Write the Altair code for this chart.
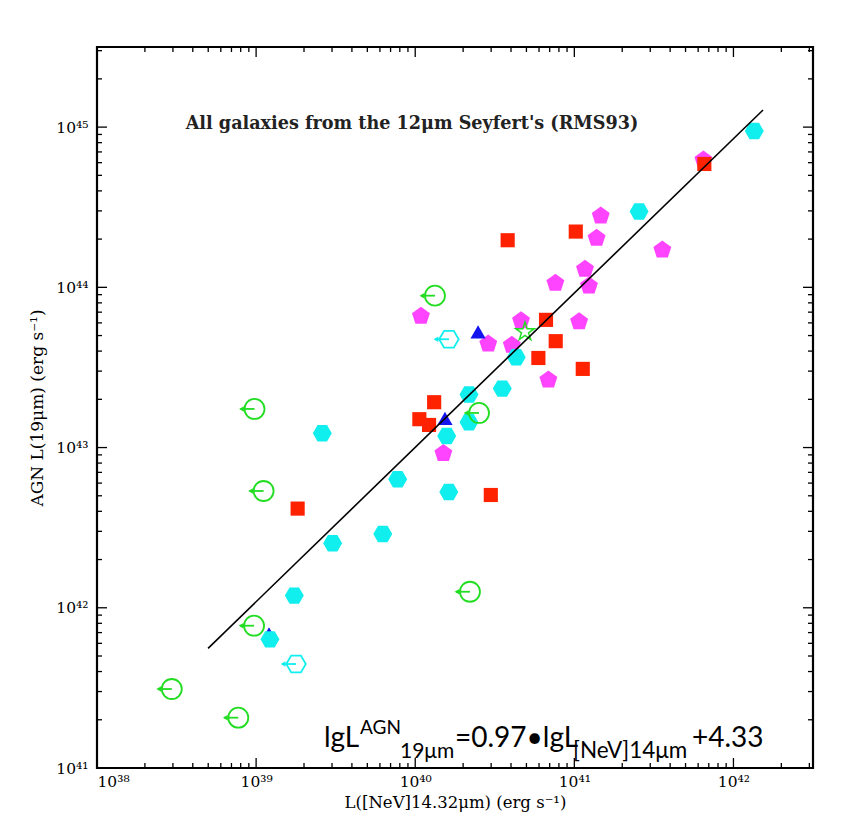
import altair as alt
import pandas as pd

# ---------------- data (log10 luminosities) ----------------
cyan_lx = [42.131, 41.407, 40.635, 40.547, 40.338, 40.338, 40.198, 39.416, 39.890, 40.211, 39.796, 39.481, 39.240, 39.087]
cyan_ly = [44.976, 44.473, 43.564, 43.368, 43.331, 43.158, 43.072, 43.089, 42.802, 42.723, 42.461, 42.403, 42.076, 41.803]

mag_lx = [41.811, 41.166, 41.140, 41.553, 41.067, 40.881, 41.092, 40.036, 40.665, 41.030, 40.459, 40.607, 40.837, 40.177]
mag_ly = [44.795, 44.446, 44.307, 44.233, 44.113, 44.026, 44.009, 43.820, 43.792, 43.786, 43.647, 43.639, 43.422, 42.964]

red_lx = [41.817, 41.009, 40.581, 40.822, 40.883, 40.774, 41.053, 40.119, 40.026, 40.087, 40.475, 39.261]
red_ly = [44.770, 44.348, 44.294, 43.797, 43.664, 43.559, 43.491, 43.283, 43.177, 43.141, 42.704, 42.619]

blue_lx = [40.395, 40.187]
blue_ly = [43.722, 43.182]
blue_small_lx = [39.081]
blue_small_ly = [41.861]

green_lim_lx = [40.124, 40.401, 38.990, 39.047, 40.344, 38.987, 38.470, 38.888]
green_lim_ly = [43.948, 43.216, 43.241, 42.729, 42.100, 41.888, 41.493, 41.314]

cyan_lim_lx = [40.212, 39.251]
cyan_lim_ly = [43.676, 41.649]

star_lx = [40.690]
star_ly = [43.723]

fit_lx = [38.698, 42.186]
fit_ly = [41.747, 45.107]

x_decades = [38, 39, 40, 41, 42]
y_decades = [41, 42, 43, 44, 45]
x_max_exp = 42.5
y_max_exp = 45.5

title_text = "All galaxies from the 12\u03bcm Seyfert's (RMS93)"
x_title = "L([NeV]14.32\u03bcm) (erg s\u207b\u00b9)"
y_title = "AGN L(19\u03bcm) (erg s\u207b\u00b9)"
eq_parts = ["lgL", "AGN", "19\u03bcm", "=0.97\u2022lgL", "[NeV]14\u03bcm", "+4.33"]

# ---------------- helpers ----------------
W, H = 716, 721
SUP = str.maketrans("0123456789", "\u2070\u00b9\u00b2\u00b3\u2074\u2075\u2076\u2077\u2078\u2079")


def table(lx, ly):
    return pd.DataFrame({"x": [10 ** v for v in lx], "y": [10 ** v for v in ly]})


def label_expr(decades):
    expr = "''"
    for d in reversed(decades):
        expr = f"datum.value < {10 ** (d + 0.5):.3e} ? '10{str(d).translate(SUP)}' : " + expr
    return expr


xs = alt.Scale(type="log", domain=[10 ** x_decades[0], 10 ** x_max_exp], nice=False)
ys = alt.Scale(type="log", domain=[10 ** y_decades[0], 10 ** y_max_exp], nice=False)

X = lambda: alt.X("x:Q", scale=xs, title=x_title)
Y = lambda: alt.Y("y:Q", scale=ys, title=y_title)

HEX = "M-1,0L-0.5,-0.866L0.5,-0.866L1,0L0.5,0.866L-0.5,0.866Z"
PENT = "M0,-1L0.951,-0.309L0.588,0.809L-0.588,0.809L-0.951,-0.309Z"
STAR = ("M0,-1L0.2245,-0.309L0.951,-0.309L0.363,0.118L0.588,0.809L0,0.382"
        "L-0.588,0.809L-0.363,0.118L-0.951,-0.309L-0.2245,-0.309Z")

CYAN, MAG, RED, BLUE, GREEN = "#10eeee", "#ff44ff", "#ff2200", "#1414ee", "#22dd22"

# ---------------- tick marks (inward, on all four sides) ----------------
x_major = [10 ** d for d in x_decades]
x_minor = [k * 10 ** d for d in x_decades for k in range(2, 10) if k * 10 ** d <= 10 ** x_max_exp]
y_major = [10 ** d for d in y_decades]
y_minor = [k * 10 ** d for d in y_decades for k in range(2, 10) if k * 10 ** d <= 10 ** y_max_exp]


def xticks(vals, ln):
    df = pd.DataFrame({"x": vals})
    b = alt.Chart(df).mark_rule(color="black", strokeWidth=1.3).encode(
        x=X(), y=alt.value(H), y2=alt.value(H - ln))
    t = alt.Chart(df).mark_rule(color="black", strokeWidth=1.3).encode(
        x=X(), y=alt.value(0), y2=alt.value(ln))
    return [b, t]


def yticks(vals, ln):
    df = pd.DataFrame({"y": vals})
    l = alt.Chart(df).mark_rule(color="black", strokeWidth=1.3).encode(
        y=Y(), x=alt.value(0), x2=alt.value(ln))
    r = alt.Chart(df).mark_rule(color="black", strokeWidth=1.3).encode(
        y=Y(), x=alt.value(W), x2=alt.value(W - ln))
    return [l, r]


ticks = xticks(x_major, 10) + xticks(x_minor, 5) + yticks(y_major, 10) + yticks(y_minor, 5)

# ---------------- axes (labels and titles only) ----------------
axis_layer = alt.Chart(pd.DataFrame({"x": x_major, "y": y_major})).mark_point(opacity=0).encode(
    x=alt.X("x:Q", scale=xs, title=x_title, axis=alt.Axis(
        values=x_major, labelExpr=label_expr(x_decades), labelPadding=6, labelFontSize=15.5,
        titleFontSize=16.5, titlePadding=5)),
    y=alt.Y("y:Q", scale=ys, title=y_title, axis=alt.Axis(
        values=y_major, labelExpr=label_expr(y_decades), labelPadding=9, labelFontSize=15.5,
        titleFontSize=17, titlePadding=9)),
)

# ---------------- data marks ----------------
mag = alt.Chart(table(mag_lx, mag_ly)).mark_point(shape=PENT, filled=True, color=MAG, size=355, opacity=1).encode(x=X(), y=Y())
red = alt.Chart(table(red_lx, red_ly)).mark_point(shape="square", filled=True, color=RED, size=200, opacity=1).encode(x=X(), y=Y())
blue = alt.Chart(table(blue_lx, blue_ly)).mark_point(shape="triangle-up", filled=True, color=BLUE, size=230, opacity=1).encode(x=X(), y=Y())
blue_s = alt.Chart(table(blue_small_lx, blue_small_ly)).mark_point(shape="triangle-up", filled=True, color=BLUE, size=40, opacity=1).encode(x=X(), y=Y())
cyan = alt.Chart(table(cyan_lx, cyan_ly)).mark_point(shape=HEX, filled=True, color=CYAN, size=360, opacity=1).encode(x=X(), y=Y())


def limits(lx, ly, shape, color, size):
    df = table(lx, ly)
    sym = alt.Chart(df).mark_point(shape=shape, filled=False, color=color, size=size,
                                   strokeWidth=1.8, opacity=1).encode(x=X(), y=Y())
    shaft = alt.Chart(df).mark_rule(color=color, strokeWidth=1.8, x2Offset=-14).encode(
        x=X(), x2="x:Q", y=Y())
    head = alt.Chart(df).mark_point(shape="triangle-left", filled=True, color=color, size=30,
                                    xOffset=-13, opacity=1).encode(x=X(), y=Y())
    return [shaft, head, sym]


green_lim = limits(green_lim_lx, green_lim_ly, "circle", GREEN, 400)
cyan_lim = limits(cyan_lim_lx, cyan_lim_ly, HEX, CYAN, 380)
star = alt.Chart(table(star_lx, star_ly)).mark_point(shape=STAR, filled=False, color=GREEN, size=380,
                                                      strokeWidth=1.5, opacity=1).encode(x=X(), y=Y())

fit = alt.Chart(table(fit_lx, fit_ly)).mark_line(color="black", strokeWidth=1.6).encode(x=X(), y=Y())

# ---------------- texts ----------------
title = alt.Chart(pd.DataFrame({"t": [title_text]})).mark_text(
    font="DejaVu Serif", fontSize=17.6, fontWeight="bold", color="#222222", align="center",
    baseline="alphabetic").encode(text="t:N", x=alt.value(315), y=alt.value(82))

eq_x = [227, 263, 303, 358, 476, 595]
eq_y = [700, 687, 711, 700, 711, 700]
eq_size = [28, 19, 21, 28, 22.5, 28]
eq_layers = []
for s, px, py, fs in zip(eq_parts, eq_x, eq_y, eq_size):
    eq_layers.append(alt.Chart(pd.DataFrame({"t": [s]})).mark_text(
        font="Lato", fontSize=fs, color="black", align="left", baseline="alphabetic").encode(
        text="t:N", x=alt.value(px), y=alt.value(py)))

chart = alt.layer(
    axis_layer, *ticks, mag, red, blue_s, blue, cyan, *green_lim, *cyan_lim, star, fit, title, *eq_layers
).properties(
    width=W, height=H,
    autosize=alt.AutoSizeParams(type="none"),
    padding={"left": 89, "top": 39, "right": 26, "bottom": 56},
    background="white",
).configure_view(stroke="black", strokeWidth=2.2).configure_axis(
    ticks=False, domain=False, grid=False, labelOverlap=False,
    labelFont="DejaVu Serif", labelColor="black",
    titleFont="DejaVu Serif", titleFontWeight="normal", titleColor="black",
)

chart.save("out.html", embed_options={"renderer": "svg", "actions": False})
